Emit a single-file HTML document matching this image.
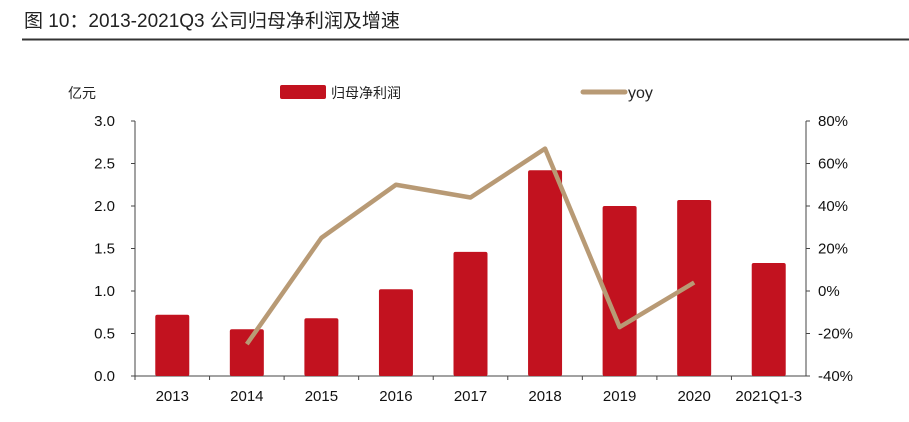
<!DOCTYPE html>
<html><head><meta charset="utf-8"><style>
body{margin:0;background:#fff;width:909px;height:417px;overflow:hidden;font-family:"Liberation Sans","Noto Sans CJK SC",sans-serif}
</style></head><body>
<svg width="909" height="417" xmlns="http://www.w3.org/2000/svg" font-family="Liberation Sans, Noto Sans CJK SC, sans-serif">
<text x="24" y="27" font-size="19" fill="#222">图 10：2013-2021Q3 公司归母净利润及增速</text>
<line x1="22" y1="39.5" x2="909" y2="39.5" stroke="#333" stroke-width="2"/>
<text x="68" y="98" font-size="14" fill="#222">亿元</text>
<rect x="280" y="85" width="46" height="14" rx="2" fill="#c2121f"/>
<text x="331" y="98" font-size="14" fill="#222">归母净利润</text>
<line x1="583" y1="92" x2="625" y2="92" stroke="#b89a75" stroke-width="5" stroke-linecap="round"/>
<text x="628" y="98" font-size="16" fill="#222">yoy</text>
<g id="plot"></g>
</svg>
<script>
const categories=["2013","2014","2015","2016","2017","2018","2019","2020","2021Q1-3"];
const profit=[0.72,0.55,0.68,1.02,1.46,2.42,2.00,2.07,1.33];
const yoy=[null,-25,25,50,44,67,-17,4,null];
const leftTicks=["0.0","0.5","1.0","1.5","2.0","2.5","3.0"];
const rightTicks=["-40%","-20%","0%","20%","40%","60%","80%"];
const NS="http://www.w3.org/2000/svg";
const g=document.getElementById('plot');
const X0=135,X1=806,Y0=376,Y1=121;
const yL=v=>Y0-(v/3)*(Y0-Y1);
const yR=v=>Y0-((v+40)/120)*(Y0-Y1);
const step=(X1-X0)/categories.length;
const xC=i=>X0+step*(i+0.5);
function el(t,a){const e=document.createElementNS(NS,t);for(const k in a)e.setAttribute(k,a[k]);g.appendChild(e);return e;}
let e;
e=el('line',{x1:X0,y1:Y1,x2:X0,y2:Y0,stroke:'#444'});


e=el('line',{x1:X1,y1:Y1,x2:X1,y2:Y0,stroke:'#444'});


e=el('line',{x1:X0,y1:Y0,x2:X1,y2:Y0,stroke:'#444'});


leftTicks.forEach((t,i)=>{const y=yL(i*0.5);
 el('line',{x1:X0-4,y1:y,x2:X0,y2:y,stroke:'#444'});
 e=el('text',{x:X0-20,y:y+5,'font-size':15,'text-anchor':'end',fill:'#111'});e.textContent=t;
 
 });
rightTicks.forEach((t,i)=>{const y=yR(-40+i*20);
 el('line',{x1:X1,y1:y,x2:X1+4,y2:y,stroke:'#444'});
 e=el('text',{x:X1+12,y:y+5,'font-size':15,fill:'#111'});e.textContent=t;
 
 });
categories.forEach((c,i)=>{
 el('line',{x1:X0+step*i,y1:Y0,x2:X0+step*i,y2:Y0+4,stroke:'#444'});
 e=el('rect',{x:xC(i)-17,y:yL(profit[i]),width:34,height:Y0-yL(profit[i]),fill:'#c2121f',rx:2});
 
 
 e=el('text',{x:xC(i),y:Y0+25,'font-size':15,'text-anchor':'middle',fill:'#111'});e.textContent=c;
 
 });
const pts=[];yoy.forEach((v,i)=>{if(v!==null)pts.push(xC(i)+','+yR(v));});
e=el('polyline',{points:pts.join(' '),fill:'none',stroke:'#b89a75','stroke-width':4.5,'stroke-linejoin':'round'});


</script>
</body></html>
